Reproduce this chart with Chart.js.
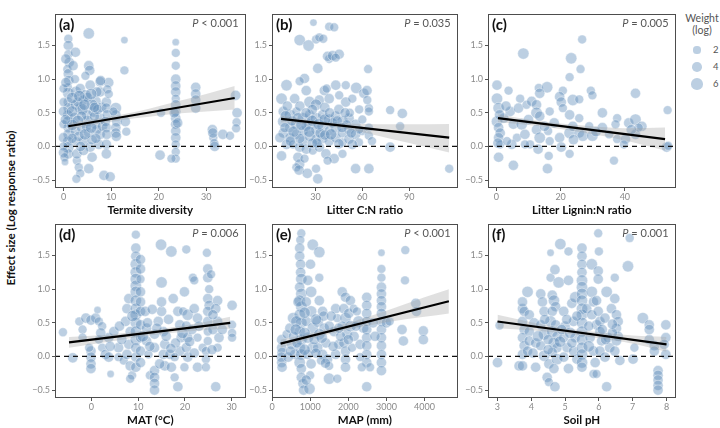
<!DOCTYPE html>
<html>
<head>
<meta charset="utf-8">
<script src="https://cdn.jsdelivr.net/npm/chart.js@4.4.1/dist/chart.umd.min.js"></script>
<style>
  html, body { margin: 0; padding: 0; background: #fff; }
  body { width: 720px; height: 428px; position: relative; overflow: hidden; font-family: Lato, "DejaVu Sans", sans-serif; }
  canvas { position: absolute; }
  #ytitle { position: absolute; left: 10px; top: 208px; transform: translate(-50%, -50%) rotate(-90deg); white-space: nowrap; font-weight: bold; font-size: 11.5px; color: #111; }
  #legend { position: absolute; left: 684px; top: 12px; width: 36px; color: #555; }
  #legend .lt { text-align: center; font-size: 10.5px; line-height: 12px; margin-bottom: 6px; }
  #legend .row { position: relative; height: 17px; }
  #legend .dot { position: absolute; border-radius: 50%; background: rgba(95,140,185,0.42); }
  #legend .lab { position: absolute; left: 29px; font-size: 9.5px; }
</style>
</head>
<body>
<div id="ytitle">Effect size (Log response ratio)</div>
<div id="legend"><div class="lt">Weight<br>(log)</div></div>
<canvas id="pa" width="225" height="211" style="left:27px;top:7px"></canvas>
<canvas id="pb" width="220" height="211" style="left:244px;top:7px"></canvas>
<canvas id="pc" width="222" height="211" style="left:460px;top:7px"></canvas>
<canvas id="pd" width="225" height="211" style="left:27px;top:217px"></canvas>
<canvas id="pe" width="220" height="211" style="left:244px;top:217px"></canvas>
<canvas id="pf" width="222" height="211" style="left:460px;top:217px"></canvas>
<script>
// shared y axis
const yTicks = [-0.5, 0, 0.5, 1.0, 1.5];
const yRange = [-0.617, 1.962];
const legendWeights = [2, 4, 6];

// (a) termite diversity: [x, effect size, weight(log)]
const termitePts = [
  [1,1.60,3],[1,1.50,4],[1,1.37,3],[1.2,1.25,4],[0.8,1.15,3],[1,1.08,4],[1.1,0.98,4],[0.9,0.88,3],[1,0.79,5],[1,0.66,4],[1.1,0.57,5],[0.9,0.47,4],[1,0.37,5],[1,0.28,4],[1.1,0.18,5],[0.9,0.08,4],[1,-0.01,5],[1,-0.11,4],
  [0,0.86,3],[0,0.66,3],[0,0.52,4],[0,0.33,3],[0,0.13,4],[0,0.0,3],[0,-0.09,4],[0.2,-0.16,3],[0.3,-0.23,2],
  [2.5,1.40,4],[2.4,1.0,3],[2.6,0.81,5],[2.5,0.62,4],[2.3,0.42,5],[2.5,0.23,4],[2.6,0.08,3],
  [3.5,0.86,4],[4.6,0.76,5],[5.6,0.91,4],[6.7,0.67,5],[7.7,0.81,4],[3.5,0.57,5],[4.9,0.47,4],[6.3,0.52,5],[7.7,0.42,4],[3.9,0.28,5],[5.3,0.2,4],[6.7,0.33,4],[7.7,0.18,4],[4.2,0.08,4],[5.6,-0.01,4],[7.4,0.03,4],
  [2.8,-0.21,3],[3.2,-0.31,3],[3.5,-0.4,3],[2.7,-0.48,3],[2.8,-0.11,4],[4.2,-0.06,4],[5.3,-0.33,4],[6,-0.16,4],
  [5.3,1.2,4],[5.5,1.13,4],[5.3,1.68,5],[4.2,0.69,4],[4.6,1.05,3],[7.7,0.96,4],[7,0.81,4],[6,0.62,5],
  [3,0.66,4],[4,0.55,5],[5,0.38,5],[6.5,0.45,4],[7,0.25,4],[3.2,0.15,4],[4.8,0.3,4],[6,0.1,4],[8,0.58,4],[5,0.73,4],[3.8,0.45,4],[7.2,0.55,4],
  [1.8,0.72,5],[1.8,0.52,5],[1.8,0.32,5],[1.8,0.12,4],[2,1.2,4],[0.5,1.3,4],[0.5,0.95,4],[0.4,0.4,4],[3.3,0.75,5],[4.4,0.62,5],[5.8,0.78,5],[6.5,0.58,4],[4.5,0.18,5],[6.8,0.12,4],[3,0.38,5],[5.8,0.28,5],[8.2,0.3,4],[3.6,0.0,4],
  [9,0.66,4],[9,0.57,4],[9.2,0.47,4],[8.8,0.37,4],[9,0.28,4],[9.1,0.18,4],[9,0.03,4],[9,-0.11,4],[8.5,-0.43,4],[9.8,-0.45,4],[9.5,0.95,4],[7.8,0.98,4],[9.2,0.85,3],[9.5,0.78,3],
  [11,0.57,5],[11,0.47,4],[11.2,0.37,4],[11,0.28,4],[11,0.2,4],[11.1,0.15,4],[10.5,0.52,3],
  [12.8,1.58,2],[12.8,1.13,3],[13,0.37,4],[13.2,0.22,3],
  [20.3,-0.13,4],[20.5,0.5,3],
  [23.6,1.55,2],[23.6,1.39,3],[23.6,1.2,3],[23.6,1.0,4],[23.6,0.9,4],[23.6,0.81,4],[23.6,0.71,3],[23.6,0.62,4],[23.6,0.52,4],[23.6,0.42,4],[23.6,0.33,4],[23.6,0.23,4],[23.6,0.13,4],[23.6,0.03,3],[23.6,-0.08,3],[23.6,-0.18,3],[22.7,-0.18,3],[23.3,0.5,4],[24,0.35,4],
  [27.8,0.88,4],[27.8,0.78,4],[27.8,0.69,4],[27.8,0.57,4],
  [31.3,0.25,4],[31.5,0.13,3],[31.7,0.05,3],[31.8,0.0,4],[31.4,0.2,4],
  [33.5,0.18,4],[35,0.16,3],[36.2,0.76,4],[36.5,0.5,4],[36.4,0.36,3],[36.3,0.27,3]
];
const termiteLineX = [1, 36], termiteLineY = [0.30, 0.72];
const termiteBandX = [1, 6, 12, 18, 24, 30, 36];
const termiteBandHi = [0.35, 0.40, 0.47, 0.56, 0.67, 0.78, 0.90];
const termiteBandLo = [0.25, 0.32, 0.39, 0.44, 0.49, 0.52, 0.55];

// (b) litter C:N ratio
const cnPts = [
  [28.7,1.84,2],[38.8,1.78,3],[42,1.77,3],[19.9,1.58,5],[25.6,1.5,5],[30.4,1.59,3],[32.5,1.62,3],[35,1.6,3],
  [38.8,1.3,3],[37.8,1.34,4],[41,1.35,4],[45.2,1.37,4],[43,1.32,3],[31.5,1.16,4],[63.7,1.15,3],
  [11.5,0.91,5],[23,1.01,4],[19.9,0.97,3],[24.1,0.83,4],[35.7,0.83,4],[37.2,0.86,3],[43,0.91,4],[49.4,0.91,3],[56.1,0.87,5],[61,0.79,4],[63,0.83,4],
  [16.7,0.71,4],[8.3,0.71,5],[26.2,0.66,5],[32.5,0.69,4],[30.4,0.62,5],[38.8,0.71,4],[45.2,0.76,3],[49.4,0.66,4],[53.6,0.71,3],[64.2,0.57,3],[63.2,0.69,3],[77.8,0.54,3],[85.6,0.49,4],
  [9.4,0.52,4],[9.4,0.37,5],[9.4,0.2,4],[13.6,0.47,5],[13.6,0.28,4],[13.6,0.13,4],[17.8,0.52,3],[17.8,0.33,5],[17.8,0.18,4],[22,0.42,5],[22,0.23,4],[22,0.08,4],[26.2,0.47,4],[26.2,0.33,5],[26.2,0.16,5],[30.4,0.42,5],[30.4,0.25,4],[30.4,0.11,4],[34.6,0.47,4],[34.6,0.3,5],[34.6,0.13,5],[38.8,0.4,5],[38.8,0.23,4],[38.8,0.08,4],[43,0.45,4],[43,0.28,5],[43,0.13,4],[47.3,0.37,5],[47.3,0.2,4],[47.3,0.06,3],[51.5,0.42,4],[51.5,0.25,4],[51.5,0.11,4],[55.7,0.33,4],[55.7,0.18,4],[60,0.4,3],[60,0.23,3],[64.2,0.52,3],[64.2,0.28,3],[64.2,0.16,3],[57.8,0.06,3],[7.3,0.13,4],[11.5,0.03,4],
  [8.3,-0.14,4],[15.6,0.03,3],[19.9,-0.01,4],[24.1,-0.04,4],[28.3,-0.06,3],[32.5,-0.01,4],[36.7,-0.11,4],[42,-0.18,4],[47.3,-0.11,3],[53.6,0.03,4],
  [18.8,-0.16,4],[19.9,-0.26,4],[23,-0.18,3],[17.8,-0.31,3],[19.5,-0.35,4],[24.8,-0.4,4],[30.4,-0.33,3],[31.5,-0.48,4],[37.8,-0.21,3],[55.7,-0.33,4],[64.2,-0.33,4],
  [77.8,-0.01,4],[84.2,0.3,3],[115.6,-0.33,3],[66.2,0.08,3],
  [12,0.6,4],[20,0.6,4],[28,0.55,4],[36,0.58,4],[45,0.55,4],[52,0.5,3],[58,0.55,3],[15,0.38,4],[24,0.3,4],[33,0.2,4],[41,0.35,4],[50,0.32,4],[58,0.25,3],[20,0.12,4],[28,0.05,4],[36,0.17,4],[45,0.04,4],[10.5,0.28,4],
  [11,0.45,5],[16,0.22,5],[19,0.42,5],[24,0.5,4],[28,0.38,5],[32,0.33,5],[36,0.4,5],[40,0.18,5],[44,0.38,4],[49,0.5,4],[53,0.2,4],[21,0.32,5],[26,0.22,5],[31,0.05,4],[39,0.5,4],[47,0.28,4],[14,0.08,4]
];
const cnLineX = [8, 115.6], cnLineY = [0.41, 0.13];
const cnBandX = [8, 30, 50, 70, 90, 115.6];
const cnBandHi = [0.46, 0.38, 0.34, 0.33, 0.33, 0.335];
const cnBandLo = [0.36, 0.32, 0.26, 0.16, 0.05, -0.09];

// (c) litter lignin:N ratio
const ligPts = [
  [26.7,1.59,3],[8.4,1.38,5],[23.3,1.31,5],[26.2,1.15,3],[22.8,1.03,3],[0.2,0.91,4],[3.8,0.83,3],[13.2,0.87,3],[15.8,0.88,5],[20.7,0.83,3],[29.4,0.83,3],[43.3,0.79,4],
  [7.4,0.71,3],[0.2,0.71,5],[13.5,0.79,4],[19.7,0.74,4],[23.8,0.69,5],[25.8,0.7,3],[20.2,0.66,4],[0.7,0.57,5],[4.3,0.52,4],[6.9,0.57,4],[9.4,0.62,3],[11,0.67,4],[12.5,0.62,4],[12.5,0.5,5],[13.5,0.45,4],[16.6,0.52,3],[20.7,0.57,3],[22.8,0.47,4],[25.8,0.42,3],[33,0.5,4],[37.6,0.42,3],[41.2,0.35,4],[43.3,0.4,5],[45.3,0.3,4],[53.3,0.54,3],
  [0.2,0.37,5],[0.7,0.28,4],[1.2,0.2,4],[0.7,0.13,4],[1.2,0.03,3],[5.3,0.33,4],[6.4,0.13,3],[4.8,0.03,4],[7.9,0.33,5],[8.9,0.18,4],[10.5,0.03,3],[12.5,0.25,4],[13.5,0.13,5],[13,-0.04,4],[16.1,0.23,3],[16.6,0.08,3],[19.7,0.13,4],[20.2,-0.01,4],[22.8,0.2,5],[23.8,0.3,4],[22.8,-0.11,3],[25.8,0.2,4],[26.9,0.16,5],[28.9,0.3,3],[29.9,0.16,5],[33,0.28,4],[35.1,0.18,3],[37.1,0.33,3],[37.6,0.11,3],[40.2,0.11,4],[39.7,0.03,3],[43.3,0.18,4],[44.3,0.28,3],
  [36.6,-0.21,3],[16.3,-0.14,3],[15.9,-0.33,4],[5.3,-0.28,4],[0.7,-0.16,4],[53,-0.01,4],[53.5,0.01,3],[8.9,0.03,3],[2.3,0.42,4],[3.3,0.08,3],[29.9,0.76,3],
  [1,0.47,4],[3,0.6,4],[10,0.4,4],[18,0.35,4],[24,0.1,4],[31,0.22,4],[42,0.25,4],[0.5,0.05,4],[15,0.3,4]
];
const ligLineX = [0.5, 52.5], ligLineY = [0.42, 0.11];
const ligBandX = [0.5, 10, 20, 30, 40, 52.5];
const ligBandHi = [0.48, 0.40, 0.34, 0.30, 0.27, 0.28];
const ligBandLo = [0.36, 0.32, 0.26, 0.18, 0.09, -0.06];

// (d) MAT
const matPts = [
  [-6.1,0.36,3],[-2.6,0.52,3],[-1.2,0.57,4],[-0.1,0.54,4],[0.9,0.57,4],[1.6,0.52,3],[1.3,0.69,2],[2.3,0.45,3],[-1.9,0.4,3],[-1.9,0.28,3],[-4,-0.02,4],[-0.1,0.08,4],[-0.1,-0.01,4],[-0.1,-0.11,4],[-0.1,-0.18,4],[-0.5,0.13,3],[1.6,0.25,3],[2.3,0.13,3],[3,0.03,4],[3.7,0.28,4],[4.1,-0.26,2],[4.8,0.37,4],[3.7,-0.01,4],[5.8,0.13,4],[5.8,-0.01,3],[6.9,-0.06,3],
  [7.3,0.52,4],[7.6,0.71,4],[8,0.86,4],[8.3,0.37,4],[8,0.18,4],[7.6,0.03,4],[8.3,-0.14,4],[8.7,-0.28,3],[8.3,-0.33,3],
  [9.5,1.81,3],[9.5,1.61,4],[9.5,1.49,4],[9.5,1.37,5],[9.5,1.25,5],[9.5,1.15,5],[9.5,1.05,5],[9.5,0.96,5],[9.5,0.83,5],[9.5,0.71,5],[9.5,0.62,5],[9.5,0.5,5],[9.5,0.37,5],[9.5,0.25,5],[9.5,0.13,4],[9.5,-0.01,4],[9.5,-0.16,4],
  [10.5,1.44,4],[10.5,1.3,4],[10.5,1.15,3],[10.5,0.96,4],[10.5,0.81,4],[10.5,0.67,4],[10.5,0.47,4],[10.5,0.28,4],[10.5,0.08,4],[10.5,-0.09,4],
  [11.5,0.67,4],[11.8,0.42,4],[11.8,0.23,4],[12.2,0.03,3],[12.5,-0.28,3],
  [13.5,-0.21,4],[13.5,-0.31,4],[13.5,-0.4,4],[13.5,-0.5,4],[13.5,0.13,4],[13.5,0.33,4],
  [14.3,0.52,4],[15,0.67,4],[15,0.81,4],[15,1.1,5],[14.9,1.66,5],[15.4,0.37,4],[15.7,0.18,4],[15.4,0.03,4],[15.7,-0.14,4],[14.6,-0.11,4],[17.1,1.56,5],[17.5,0.86,4],[16.8,0.03,4],[17.1,-0.16,4],[17.8,-0.31,3],
  [18.5,0.67,4],[18.9,0.47,4],[19.2,0.28,4],[18.9,0.08,4],[19.6,0.67,3],[19.9,0.96,4],[20.6,0.62,5],[20.3,0.45,4],[20.6,0.28,4],[20.3,0.13,4],[20.6,-0.01,4],[19.9,-0.16,3],[17.8,-0.01,3],[18.5,-0.45,4],[20.3,1.59,3],[21.7,1.17,3],[22,1.13,3],[22,0.71,4],[22.7,0.57,4],[22.7,0.28,3],[22.7,-0.16,4],[23.8,0.13,3],
  [24.7,1.54,3],[24.9,1.3,4],[24.9,1.17,4],[25.2,1.0,3],[24.9,0.86,4],[25.2,0.76,4],[24.9,0.67,4],[24.9,0.52,4],[24.9,0.37,3],[24.9,0.23,3],[24.5,0.08,3],[24.5,-0.04,3],[24.5,-0.16,3],[27,0.83,4],[26.6,0.71,4],[27,0.52,4],[27.3,0.28,4],[27,0.13,3],[26.6,-0.45,4],[25.6,1.22,3],
  [30.1,0.76,4],[30.1,0.47,3],[30.1,0.35,3],[30.1,0.28,3],
  [12,0.5,4],[16,0.3,4],[21.5,0.4,4],[6.5,0.25,4],[26,0.4,4],[13,0.7,4],[18,0.2,4],[22,0.05,4],
  [8.8,0.6,5],[11,0.3,5],[12.5,0.15,4],[14,0.42,4],[16.5,0.55,4],[17,0.12,4],[19.5,0.35,5],[21,0.22,4],[23,0.45,4],[25.8,0.1,4],[26,0.62,4],[28,0.4,4],[6,0.45,4],[4,0.15,4],[2,0.35,4]
];
const matLineX = [-4.8, 29.7], matLineY = [0.21, 0.50];
const matBandX = [-4.8, 3, 10, 17, 24, 29.7];
const matBandHi = [0.29, 0.32, 0.37, 0.43, 0.51, 0.59];
const matBandLo = [0.13, 0.21, 0.29, 0.35, 0.39, 0.41];

// (e) MAP
const mapPts = [
  [250,0.13,4],[260,0.06,4],[240,-0.01,4],[250,-0.09,4],[260,-0.16,4],[250,0.25,4],
  [378,0.33,3],[464,0.42,4],[507,0.18,4],[593,0.03,4],[550,0.57,5],[421,-0.01,4],
  [765,1.83,3],[739,1.73,3],[722,1.61,4],[722,1.49,4],[747,1.37,4],[747,1.25,4],[765,1.15,5],[722,1.03,4],[765,0.93,5],[722,0.83,5],[765,0.74,5],[722,0.62,5],[765,0.5,5],[722,0.37,5],[765,0.25,5],[722,0.13,5],[765,0.03,5],[722,-0.09,5],[765,-0.18,4],[765,-0.31,4],[808,-0.4,4],[825,-0.5,4],[679,0.81,4],[636,0.52,5],[653,0.2,4],
  [1065,1.66,5],[1005,1.37,4],[936,1.13,4],[1022,0.96,5],[893,0.81,4],[1022,0.67,5],[893,0.52,4],[1065,0.42,5],[936,0.28,5],[1065,0.13,5],[936,0.03,4],[1022,-0.11,4],[996,-0.28,3],[979,-0.48,5],[893,-0.35,4],
  [1237,1.55,5],[1237,1.17,3],[1237,0.83,4],[1323,0.67,4],[1194,0.52,5],[1366,0.42,4],[1237,0.33,5],[1409,0.2,4],[1194,0.13,4],[1323,0.03,4],[1452,-0.04,4],[1495,-0.14,3],[1495,-0.33,5],[1280,-0.06,3],
  [1667,0.71,4],[1710,0.57,3],[1624,0.37,4],[1753,0.18,4],[1667,0.03,4],[1710,-0.33,3],[1839,0.96,4],[1925,0.88,4],[1882,0.71,4],[1925,0.57,5],[1839,0.45,4],[1968,0.33,4],[1882,0.2,4],[1925,0.08,4],[1925,-0.04,4],[1925,-0.16,4],[2053,0.83,4],[2010,0.64,4],[2053,0.45,5],[2096,0.13,3],[2139,0.71,3],
  [2268,0.52,5],[2225,0.67,3],[2311,0.18,4],[2397,0.42,4],[2483,0.88,4],[2483,0.76,4],[2483,0.64,4],[2483,0.52,4],[2483,0.4,4],[2483,0.28,4],[2483,0.16,4],[2483,0.03,4],[2483,-0.09,4],[2483,-0.45,4],[2569,-0.16,3],[2311,-0.01,3],[2354,-0.16,3],
  [2869,1.54,2],[2869,1.3,3],[2869,1.17,3],[2869,1.03,4],[2869,0.93,4],[2869,0.83,4],[2869,0.74,4],[2869,0.64,4],[2869,0.52,4],[2869,0.4,4],[2869,0.28,4],[2869,0.16,4],[2869,0.03,4],[2869,-0.09,4],[2869,-0.21,4],[2998,0.5,4],[3084,0.52,3],
  [3410,0.4,4],[3445,0.23,4],[3496,1.58,3],[3487,1.13,3],[3771,0.79,4],[3788,0.67,4],[3969,0.38,4],[3969,0.25,4],
  [560,0.3,4],[1100,0.25,4],[1500,0.45,4],[1800,0.3,4],[2150,0.3,4],[1350,0.6,4],[1600,0.15,4],[2700,0.3,4],
  [480,0.08,4],[620,0.4,5],[850,0.65,5],[850,0.35,5],[850,0.1,5],[1150,0.55,5],[1150,0.05,4],[1300,0.28,5],[1550,0.6,4],[1750,0.42,4],[2000,0.25,4],[2200,0.45,4],[2650,0.5,4],[1400,-0.1,4]
];
const mapLineX = [220, 4640], mapLineY = [0.19, 0.82];
const mapBandX = [220, 1000, 2000, 3000, 4000, 4640];
const mapBandHi = [0.25, 0.34, 0.50, 0.68, 0.88, 1.00];
const mapBandLo = [0.13, 0.26, 0.40, 0.51, 0.59, 0.64];

// (f) soil pH
const phPts = [
  [3,-0.09,4],[3.06,0.46,3],[3.64,-0.14,4],[3.74,0.71,4],[3.74,0.81,4],[3.79,0.67,4],[3.74,0.52,4],[3.79,0.4,4],[3.74,0.28,4],[3.79,0.16,4],[3.74,0.03,4],[3.74,-0.14,4],[3.89,0.96,5],[3.94,0.62,4],[3.94,0.37,4],[3.94,0.23,4],[3.89,0.08,4],
  [4.13,-0.16,4],[4.08,0.5,4],[4.13,0.2,4],[4.28,0.93,4],[4.33,0.81,4],[4.38,0.67,4],[4.28,0.47,4],[4.38,0.33,5],[4.28,0.16,4],[4.38,0.01,5],[4.47,-0.31,4],[4.52,-0.38,3],[4.52,-0.11,4],
  [4.57,1.54,2],[4.57,1.17,3],[4.62,0.91,4],[4.67,0.83,5],[4.72,0.74,4],[4.62,0.67,4],[4.57,0.52,5],[4.72,0.47,4],[4.62,0.37,5],[4.76,0.3,4],[4.67,0.2,5],[4.76,0.13,4],[4.62,0.06,4],[4.76,-0.04,5],[4.67,-0.18,4],[4.7,-0.45,4],[4.7,1.29,4],[4.81,1.1,5],[4.86,1.67,5],
  [5.1,1.56,3],[5.1,1.13,4],[4.96,0.67,4],[5.0,0.45,4],[4.96,0.28,4],[5.06,0.13,4],[4.96,-0.01,4],[5.1,-0.18,4],[5.2,0.79,4],[5.25,0.52,4],[5.3,0.28,4],[5.25,0.08,4],[5.35,-0.04,4],[5.3,0.88,5],
  [5.5,1.61,4],[5.5,1.49,4],[5.5,1.37,4],[5.5,1.25,4],[5.5,1.13,5],[5.5,1.03,5],[5.5,0.93,5],[5.5,0.83,5],[5.5,0.71,5],[5.5,0.62,5],[5.5,0.5,5],[5.5,0.37,5],[5.5,0.25,5],[5.5,0.13,5],[5.5,0.03,5],[5.5,-0.09,5],[5.5,-0.16,4],
  [5.64,0.71,4],[5.74,0.28,4],[5.79,0.62,4],[5.79,0.96,5],[5.84,0.81,4],[5.79,1.37,5],[5.93,0.47,4],[5.84,0.08,4],[5.89,-0.09,4],[5.98,1.83,3],[6,1.56,3],[5.98,1.27,4],[5.98,1.15,4],[5.93,0.83,4],[5.98,0.67,4],[6.03,0.52,4],[6.03,0.37,4],[6.08,0.23,4],[6.03,0.08,4],[5.84,-0.26,3],[5.93,-0.26,3],
  [6.18,0.57,4],[6.23,0.96,5],[6.23,-0.45,4],[6.27,0.28,4],[6.32,0.13,4],[6.18,-0.01,4],[6.47,1.17,3],[6.47,0.86,4],[6.37,0.71,4],[6.52,0.62,4],[6.57,0.52,4],[6.52,0.42,4],[6.57,0.3,4],[6.52,0.23,4],[6.47,0.08,4],[6.62,-0.06,4],
  [6.86,1.34,5],[6.91,1.76,3],[7.01,-0.04,4],[7.05,0.13,3],[7.3,0.57,5],[7.49,0.47,4],[7.49,0.4,4],[7.49,0.25,4],[7.64,0.16,4],[7.64,0.08,4],
  [7.75,-0.21,4],[7.75,-0.28,4],[7.75,-0.35,4],[7.75,-0.43,4],[7.75,-0.5,4],[7.98,0.47,4],[7.98,0.28,4],[7.98,0.03,4],[7.93,0.18,4],
  [4.4,0.55,4],[4.9,0.4,4],[5.2,0.2,4],[6.1,0.4,4],[4.5,0.25,4],[5.7,0.45,4],[6.4,0.35,4],
  [4.2,0.3,5],[4.5,0.1,4],[4.85,0.22,5],[5.15,0.35,5],[5.35,0.6,4],[5.7,0.15,5],[6.2,0.25,4],[6.4,0.48,4],[5.05,0.55,4],[4.05,0.05,4]
];
const phLineX = [3, 8], phLineY = [0.52, 0.18];
const phBandX = [3, 4, 5, 6, 7, 8];
const phBandHi = [0.62, 0.51, 0.42, 0.36, 0.31, 0.29];
const phBandLo = [0.42, 0.39, 0.34, 0.27, 0.19, 0.07];

const panels = [
  { id: 'pa', tag: 'a', p: '< 0.001', title: 'Termite diversity', pts: termitePts, xr: [-1.8, 38.3], xt: [0, 10, 20, 30],
    lx: termiteLineX, ly: termiteLineY, bx: termiteBandX, bh: termiteBandHi, bl: termiteBandLo },
  { id: 'pb', tag: 'b', p: '= 0.035', title: 'Litter C:N ratio', pts: cnPts, xr: [2.2, 121], xt: [30, 60, 90],
    lx: cnLineX, ly: cnLineY, bx: cnBandX, bh: cnBandHi, bl: cnBandLo },
  { id: 'pc', tag: 'c', p: '= 0.005', title: 'Litter Lignin:N ratio', pts: ligPts, xr: [-2.6, 55.8], xt: [0, 20, 40],
    lx: ligLineX, ly: ligLineY, bx: ligBandX, bh: ligBandHi, bl: ligBandLo },
  { id: 'pd', tag: 'd', p: '= 0.006', title: 'MAT (\u00B0C)', pts: matPts, xr: [-7.8, 33], xt: [0, 10, 20, 30],
    lx: matLineX, ly: matLineY, bx: matBandX, bh: matBandHi, bl: matBandLo },
  { id: 'pe', tag: 'e', p: '< 0.001', title: 'MAP (mm)', pts: mapPts, xr: [-5, 4870], xt: [0, 1000, 2000, 3000, 4000],
    lx: mapLineX, ly: mapLineY, bx: mapBandX, bh: mapBandHi, bl: mapBandLo },
  { id: 'pf', tag: 'f', p: '= 0.001', title: 'Soil pH', pts: phPts, xr: [2.72, 8.27], xt: [3, 4, 5, 6, 7, 8],
    lx: phLineX, ly: phLineY, bx: phBandX, bh: phBandHi, bl: phBandLo }
];

const FONT = 'Lato, "DejaVu Sans", sans-serif';
const ptFill = 'rgba(95,140,185,0.42)';
const sizeOf = w => 2.4 * Math.sqrt(w) + 0.3;

// frame, panel letter and P value
const panelDecor = {
  id: 'panelDecor',
  afterDraw(chart, args, o) {
    const { ctx, chartArea: ca } = chart;
    ctx.save();
    ctx.strokeStyle = '#4d4d4d';
    ctx.lineWidth = 1;
    ctx.strokeRect(Math.round(ca.left) + 0.5, Math.round(ca.top) + 0.5, Math.round(ca.width) - 1, Math.round(ca.height) - 1);
    ctx.fillStyle = '#111';
    ctx.font = 'bold 15px ' + FONT;
    ctx.textAlign = 'left';
    ctx.textBaseline = 'alphabetic';
    ctx.fillText('(' + o.tag + ')', ca.left + 4, ca.top + 16);
    ctx.fillStyle = '#555';
    ctx.font = '11px ' + FONT;
    ctx.textAlign = 'right';
    const rest = ' ' + o.p;
    const rx = ca.right - 7;
    ctx.fillText(rest, rx, ca.top + 13);
    const rw = ctx.measureText(rest).width;
    ctx.font = 'italic 11px ' + FONT;
    ctx.fillText('P', rx - rw, ca.top + 13);
    ctx.restore();
  }
};

const tickFmt = v => (v < 0 ? '\u2212' + Math.abs(v).toFixed(1) : v.toFixed(1));

panels.forEach(pn => {
  const xMin = pn.xr[0], xMax = pn.xr[1];
  new Chart(document.getElementById(pn.id), {
    type: 'bubble',
    data: {
      datasets: [
        { type: 'line', data: pn.lx.map((x, i) => ({ x, y: pn.ly[i] })), borderColor: '#000', borderWidth: 2.2, pointRadius: 0, fill: false },
        { type: 'line', data: [{ x: xMin, y: 0 }, { x: xMax, y: 0 }], borderColor: '#111', borderWidth: 1.3, borderDash: [5, 4], pointRadius: 0, fill: false },
        { type: 'line', data: pn.bx.map((x, i) => ({ x, y: pn.bh[i] })), borderWidth: 0, borderColor: 'rgba(0,0,0,0)', pointRadius: 0, cubicInterpolationMode: 'monotone', fill: '+1', backgroundColor: 'rgba(160,160,160,0.32)' },
        { type: 'line', data: pn.bx.map((x, i) => ({ x, y: pn.bl[i] })), borderWidth: 0, borderColor: 'rgba(0,0,0,0)', pointRadius: 0, cubicInterpolationMode: 'monotone', fill: false },
        { data: pn.pts.map(p => ({ x: p[0], y: p[1], r: sizeOf(p[2]) })), backgroundColor: ptFill, borderColor: 'rgba(255,255,255,0.55)', borderWidth: 0.7 }
      ]
    },
    options: {
      responsive: false,
      animation: false,
      events: [],
      layout: { padding: { left: 0, top: 4, right: 4, bottom: 0 } },
      plugins: { legend: { display: false }, tooltip: { enabled: false }, panelDecor: { tag: pn.tag, p: pn.p } },
      scales: {
        x: {
          type: 'linear', min: xMin, max: xMax,
          afterBuildTicks: s => { s.ticks = pn.xt.map(v => ({ value: v })); },
          afterFit: s => { s.height = 30; },
          ticks: { color: '#8a8a8a', font: { size: 9, family: FONT }, padding: 1, maxRotation: 0, autoSkip: false, callback: v => String(v) },
          grid: { drawOnChartArea: false, drawTicks: true, tickLength: 3, tickColor: '#555' },
          border: { display: false },
          title: { display: true, text: pn.title, color: '#111', font: { size: 11.5, weight: 'bold', family: FONT }, padding: { top: 0, bottom: 1 } }
        },
        y: {
          type: 'linear', min: yRange[0], max: yRange[1],
          afterBuildTicks: s => { s.ticks = yTicks.map(v => ({ value: v })); },
          afterFit: s => { s.width = 28; },
          ticks: { color: '#8a8a8a', font: { size: 9, family: FONT }, padding: 2, callback: v => tickFmt(v) },
          grid: { drawOnChartArea: false, drawTicks: true, tickLength: 3, tickColor: '#555' },
          border: { display: false }
        }
      }
    },
    plugins: [panelDecor]
  });
});

// size legend
const lg = document.getElementById('legend');
legendWeights.forEach(w => {
  const r = sizeOf(w) * 0.95;
  const row = document.createElement('div');
  row.className = 'row';
  row.innerHTML = '<div class="dot" style="left:' + (13 - r) + 'px;top:' + (8 - r) + 'px;width:' + (2 * r) + 'px;height:' + (2 * r) + 'px"></div>' +
    '<div class="lab" style="top:2px">' + w + '</div>';
  lg.appendChild(row);
});
</script>
</body>
</html>
